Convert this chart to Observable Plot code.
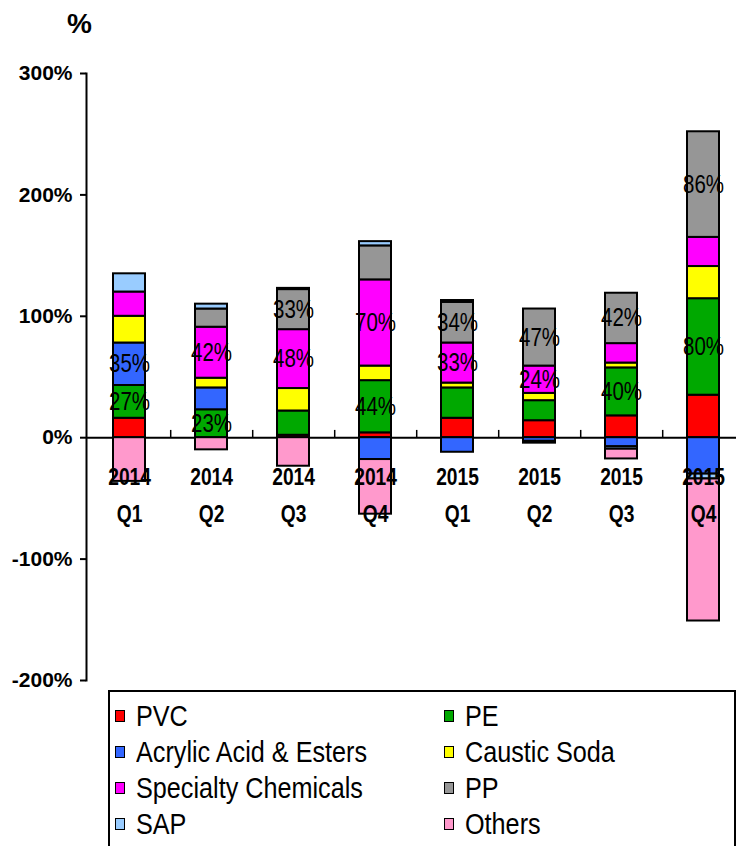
<!DOCTYPE html>
<html><head><meta charset="utf-8">
<script src="https://cdn.jsdelivr.net/npm/d3@7"></script>
<script src="https://cdn.jsdelivr.net/npm/@observablehq/plot@0.6"></script>
<style>
body{margin:0;background:#fff;width:736px;height:846px;overflow:hidden;position:relative;font-family:"Liberation Sans",Arial,sans-serif}
#chart{position:absolute;left:0;top:0}
#legend{position:absolute;left:108px;top:690px;width:628px;height:200px;border:2px solid #000;box-sizing:border-box;padding:6px 0 0 5px;display:grid;grid-template-columns:329px auto;grid-auto-rows:36px;font-family:"Liberation Sans",Arial,sans-serif;font-size:30px;color:#000}
.item{display:flex;align-items:center;height:36px;white-space:nowrap}
.sw{width:8px;height:10px;border:1.5px solid #000;margin-right:11px;flex:none}
.txt{display:inline-block;transform:scaleX(0.84);transform-origin:left center}
</style>
</head><body>
<div id="chart"></div>
<div id="legend"></div>
<script>
const quarters = ["2014 Q1","2014 Q2","2014 Q3","2014 Q4","2015 Q1","2015 Q2","2015 Q3","2015 Q4"];
const series = ["PVC","PE","Acrylic Acid & Esters","Caustic Soda","Specialty Chemicals","PP","SAP","Others"];
const colors = ["#FF0000","#00A800","#3366FF","#FFFF00","#FF00FF","#969696","#99CCFF","#FF99CC"];

const pvc       = [16, 0, 2, 4, 16, 14, 18, 35];
const pe        = [27, 23, 20, 43, 25, 16.5, 39.5, 79.5];
const acrylic   = [35, 18, 0, -18, -12, -3, -7.5, -30];
const caustic   = [22, 8, 18.5, 12, 4, 6, 4, 26.5];
const specialty = [20, 42, 48.5, 71, 33, 22.5, 16, 24];
const pp        = [0, 15, 33, 28, 33.5, 47, 41.5, 87];
const sap       = [15, 4, 1, 3.5, 1.5, 0, -2, -4];
const others    = [-36, -10, -23.5, -45, 0, -1.5, -8, -117];

const labelPVC       = [null,null,null,null,null,null,null,null];
const labelPE        = ["27%","23%",null,"44%",null,null,"40%","80%"];
const labelAcrylic   = ["35%",null,null,null,null,null,null,null];
const labelCaustic   = [null,null,null,null,null,null,null,null];
const labelSpecialty = [null,"42%","48%","70%","33%","24%",null,null];
const labelPP        = [null,null,"33%",null,"34%","47%","42%","86%"];
const labelSAP       = [null,null,null,null,null,null,null,null];
const labelOthers    = [null,null,null,null,null,null,null,null];

const yTicks = [-200,-100,0,100,200,300];
const unitLabel = "%";

const values = [pvc, pe, acrylic, caustic, specialty, pp, sap, others];
const labels = [labelPVC, labelPE, labelAcrylic, labelCaustic, labelSpecialty, labelPP, labelSAP, labelOthers];
const rows = [];
series.forEach((s, si) => values[si].forEach((v, qi) => rows.push({quarter: quarters[qi], series: s, value: v, label: labels[si][qi]})));

const font = "'Liberation Sans',Arial,sans-serif";

const chart = Plot.plot({
  width: 736, height: 688,
  marginLeft: 86, marginRight: 0, marginTop: 73, marginBottom: 8,
  style: {fontFamily: font, background: "#fff", overflow: "visible"},
  x: {domain: quarters, range: [86, 745], paddingInner: 0.61, paddingOuter: 0.305, axis: null},
  y: {domain: [-200, 300]},
  color: {domain: series, range: colors},
  marks: [
    Plot.ruleY([0], {stroke: "#000", strokeWidth: 2}),
    Plot.axisY({ticks: yTicks, tickFormat: d => d + "%", tickSize: 6, tickPadding: 8, fontSize: 21, fontWeight: "bold", label: null, strokeWidth: 2, fill: "#000"}),
    Plot.frame({anchor: "left", strokeWidth: 2, stroke: "#000"}),
    Plot.ruleX(quarters.slice(0, -1), {x: d => d, y1: 0, y2: 6, dx: 41.2, stroke: "#000", strokeWidth: 1.5}),
    Plot.barY(rows, {x: "quarter", y: "value", fill: "series", stroke: "#000", strokeWidth: 2}),
    Plot.text(rows, Plot.stackY({x: "quarter", y: "value", z: "series", text: "label", fontSize: 25, fill: "#000", className: "narrow-lbl"})),
    Plot.text(quarters, {x: d => d, y: 0, text: d => d.replace(" ", "\n"), dy: 54, lineHeight: 1.55, lineAnchor: "middle", fontSize: 24, fontWeight: "bold", fill: "#000", className: "narrow-q"}),
    Plot.text([unitLabel], {frameAnchor: "top-left", text: d => d, dx: -7, dy: -41, textAnchor: "middle", lineAnchor: "bottom", fontSize: 28, fontWeight: "bold", fill: "#000"})
  ]
});
document.getElementById("chart").appendChild(chart);

// condensed look of the original lettering: scale each text horizontally about its own centre
function condense(sel, k) {
  chart.querySelectorAll(sel).forEach(el => {
    const b = el.getBBox();
    const cx = b.x + b.width / 2;
    const tr = el.getAttribute("transform") || "";
    el.setAttribute("transform", `${tr} translate(${cx},0) scale(${k},1) translate(${-cx},0)`);
  });
}
condense(".narrow-lbl text", 0.82);
condense(".narrow-q text", 0.8);

const legend = document.getElementById("legend");
series.forEach((s, i) => {
  const item = document.createElement("div");
  item.className = "item";
  const sw = document.createElement("span");
  sw.className = "sw";
  sw.style.background = colors[i];
  const t = document.createElement("span");
  t.className = "txt";
  t.textContent = s;
  item.appendChild(sw); item.appendChild(t);
  legend.appendChild(item);
});
</script>
</body></html>
